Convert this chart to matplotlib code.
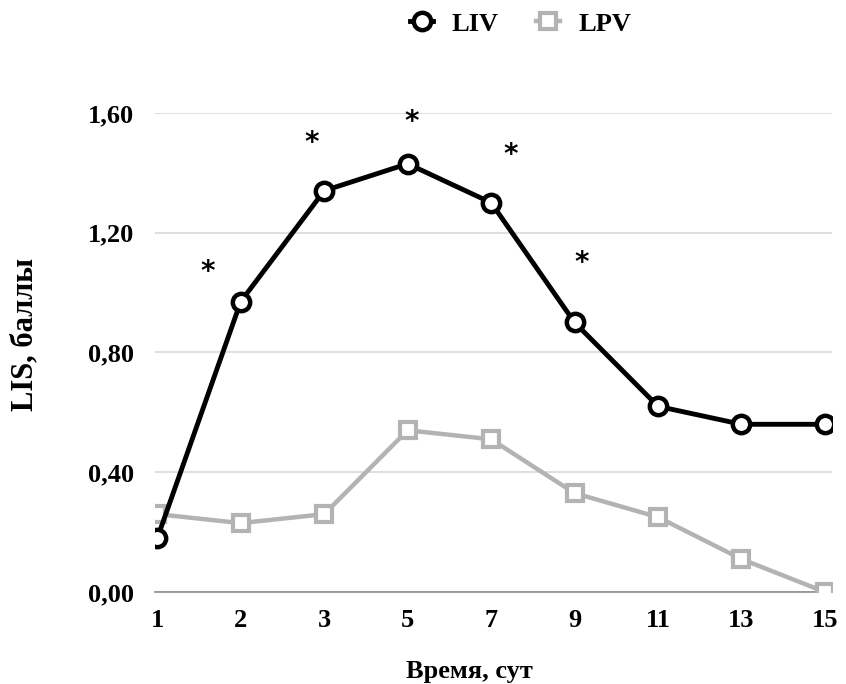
import matplotlib
matplotlib.use("Agg")
import matplotlib.pyplot as plt
from matplotlib.ticker import FuncFormatter

# Data
days = ["1", "2", "3", "5", "7", "9", "11", "13", "15"]
liv = [0.18, 0.97, 1.34, 1.43, 1.30, 0.90, 0.62, 0.56, 0.56]
lpv = [0.26, 0.23, 0.26, 0.54, 0.51, 0.33, 0.25, 0.11, 0.00]
# significance marks: (category position, y)
star_x = [0.6, 1.85, 3.05, 4.24, 5.09]
star_y = [1.07, 1.50, 1.57, 1.46, 1.10]

plt.rcParams['font.family'] = ['Liberation Serif', 'DejaVu Serif']

fig = plt.figure(figsize=(8.46, 6.84), dpi=100)
ax = fig.add_axes([0.183, 0.1345, 0.80, 0.7005])

x = list(range(len(days)))
ax.plot(x, lpv, color='#b3b3b3', lw=3.2, marker='s', markersize=12,
        markerfacecolor='white', markeredgecolor='#b3b3b3', markeredgewidth=3,
        label='LPV', zorder=3)
ax.plot(x, liv, color='black', lw=3.5, marker='o', markersize=12.5,
        markerfacecolor='white', markeredgecolor='black', markeredgewidth=3.2,
        label='LIV', zorder=4)

for sx, sy in zip(star_x, star_y):
    ax.text(sx, sy, '*', fontsize=20, fontweight='bold', family='DejaVu Sans',
            ha='center', va='center', clip_on=False)

ax.set_xlim(-0.03, 8.08)
ax.set_ylim(0, 1.6)
ax.set_yticks([0, 0.4, 0.8, 1.2, 1.6])
ax.yaxis.set_major_formatter(FuncFormatter(lambda v, p: f"{v:.2f}".replace('.', ',')))
ax.set_xticks(x)
ax.set_xticklabels(days)
ax.grid(axis='y', color='#d9d9d9', lw=1.2)
ax.set_axisbelow(True)
for s in ['top', 'right', 'left']:
    ax.spines[s].set_visible(False)
ax.spines['bottom'].set_color('#8c8c8c')
ax.spines['bottom'].set_linewidth(1.2)
ax.tick_params(length=0, labelsize=19)
ax.tick_params(axis='x', pad=12)
ax.tick_params(axis='y', pad=15)
for lab in ax.get_xticklabels() + ax.get_yticklabels():
    lab.set_fontweight('bold')

ax.set_xlabel('Время, сут', fontsize=19, fontweight='bold')
ax.set_ylabel('LIS, баллы', fontsize=22, fontweight='bold')
ax.xaxis.set_label_coords(0.465, -0.142)
ax.yaxis.set_label_coords(-0.171, 0.537)

h, l = ax.get_legend_handles_labels()
leg = fig.legend(h[::-1], l[::-1], loc='center', bbox_to_anchor=(0.615, 0.965),
                 ncol=2, frameon=False, handlelength=0.9, handletextpad=0.7,
                 columnspacing=1.4, prop={'size': 19, 'weight': 'bold'})

fig.savefig('out.png', dpi=100)
